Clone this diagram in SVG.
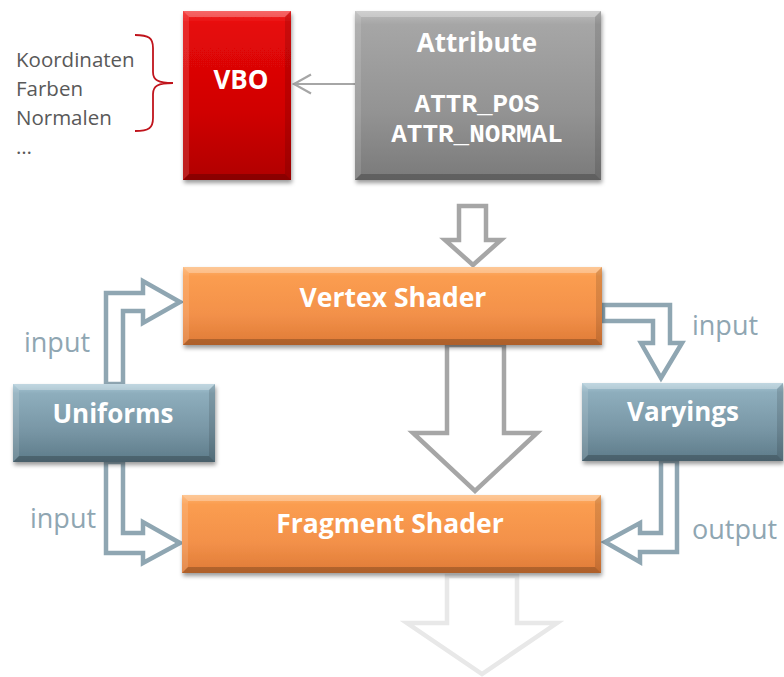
<svg xmlns="http://www.w3.org/2000/svg" width="784" height="677" viewBox="0 0 784 677">
<defs>
  <linearGradient id="gOrange" x1="0" y1="0" x2="0" y2="1">
    <stop offset="0" stop-color="#fdb36f"/>
    <stop offset="0.12" stop-color="#fb9d50"/>
    <stop offset="0.6" stop-color="#f3914a"/>
    <stop offset="1" stop-color="#df7b36"/>
  </linearGradient>
  <linearGradient id="gBlue" x1="0" y1="0" x2="0" y2="1">
    <stop offset="0" stop-color="#a9c8d6"/>
    <stop offset="0.12" stop-color="#8eaebd"/>
    <stop offset="0.6" stop-color="#7896a5"/>
    <stop offset="1" stop-color="#5d7b89"/>
  </linearGradient>
  <linearGradient id="gRed" x1="0" y1="0" x2="0" y2="1">
    <stop offset="0" stop-color="#f42a2a"/>
    <stop offset="0.08" stop-color="#e60808"/>
    <stop offset="0.6" stop-color="#d00404"/>
    <stop offset="1" stop-color="#b00000"/>
  </linearGradient>
  <linearGradient id="gGray" x1="0" y1="0" x2="0" y2="1">
    <stop offset="0" stop-color="#bdbdbd"/>
    <stop offset="0.08" stop-color="#a6a6a6"/>
    <stop offset="0.6" stop-color="#939393"/>
    <stop offset="1" stop-color="#7a7a7a"/>
  </linearGradient>
  <filter id="shadow" x="-10%" y="-10%" width="125%" height="135%">
    <feDropShadow dx="1" dy="3" stdDeviation="2.2" flood-color="#000" flood-opacity="0.4"/>
  </filter>
</defs>
<style>
  .box { stroke: none; filter: url(#shadow); }
  .bt { fill: #ffffff; opacity: 0.28; }
  .bl { fill: #ffffff; opacity: 0.12; }
  .br { fill: #000000; opacity: 0.12; }
  .bb { fill: #000000; opacity: 0.22; }
  .title { font-family: "Open Sans", "Liberation Sans", sans-serif; font-weight: bold; fill: #ffffff; text-anchor: middle; }
  .mono { font-family: "Liberation Mono", "DejaVu Sans Mono", monospace; font-weight: bold; fill: #ffffff; text-anchor: middle; font-size: 26px; }
  .side { font-family: "Open Sans", "Liberation Sans", sans-serif; font-size: 20.5px; fill: #595959; }
  .lbl { font-family: "Open Sans", "Liberation Sans", sans-serif; font-size: 27px; fill: #8fa6b2; }
  .ga { fill: #ffffff; stroke: #a6a6a6; stroke-width: 4.5; stroke-linejoin: miter; }
  .ba { fill: #ffffff; stroke: #8fa6b2; stroke-width: 4.5; stroke-linejoin: miter; }
  .fa { fill: #ffffff; stroke: #e8e8e8; stroke-width: 4.5; }
</style>

<g id="connectors">
  <!-- Attribute -> VBO -->
  <line x1="355" y1="84" x2="294" y2="84" stroke="#a6a6a6" stroke-width="2.2"/>
  <polyline points="311,74.5 294,84 311,93.5" fill="none" stroke="#a6a6a6" stroke-width="2.2"/>
  <!-- Attribute -> Vertex Shader -->
  <polygon class="ga" points="459,206 486,206 486,240 501,240 473,265 445,240 459,240"/>
  <!-- Vertex -> Fragment big arrow -->
  <polygon class="ga" points="447,345 504,345 504,433 537,433 475,491 413,433 447,433"/>
  <!-- Fragment -> out (faded) -->
  <polygon class="fa" points="447,576 517,576 517,623 557,623 482,674 407,623 447,623"/>
  <!-- Uniforms -> Vertex -->
  <polygon class="ba" points="106,384 106,293 143,293 143,281 180,302 143,323 143,311 123,311 123,384"/>
  <!-- Uniforms -> Fragment -->
  <polygon class="ba" points="106,462 106,553 143,553 143,563 180,543 143,522 143,533 123,533 123,462"/>
  <!-- Vertex -> Varyings -->
  <polygon class="ba" points="603,305 670,305 670,343 682,343 661,378 641,343 653,343 653,321 603,321"/>
  <!-- Varyings -> Fragment -->
  <polygon class="ba" points="677,461 677,552 640,552 640,562 605,542 640,523 640,533 661,533 661,461"/>
</g>

<g id="labels">
  <text class="lbl" x="24" y="352">input</text>
  <text class="lbl" x="30" y="528">input</text>
  <text class="lbl" x="692" y="335">input</text>
  <text class="lbl" x="692" y="539">output</text>
</g>

<g id="vbo-data">
  <text class="side" x="16" y="67">Koordinaten</text>
  <text class="side" x="16" y="96">Farben</text>
  <text class="side" x="16" y="125">Normalen</text>
  <text class="side" x="16" y="154">…</text>
  <path d="M135,35 C149,35 153,38 153,48 L153,72 C153,80 158,83 173,83 C158,83 153,86 153,94 L153,118 C153,128 149,131 135,131" fill="none" stroke="#c0141c" stroke-width="1.8"/>
</g>

<g id="node-vbo">
  <rect class="box" x="183" y="11" width="108" height="169" fill="url(#gRed)"/>
  <polygon class="bt" points="183,11 291,11 285,17 189,17"/>
  <polygon class="bl" points="183,11 189,17 189,174 183,180"/>
  <polygon class="br" points="291,11 285,17 285,174 291,180"/>
  <polygon class="bb" points="183,180 291,180 285,174 189,174"/>
  <text class="title" x="241" y="89" font-size="26">VBO</text>
</g>

<g id="node-attribute">
  <rect class="box" x="355" y="11" width="246" height="169" fill="url(#gGray)"/>
  <polygon class="bt" points="355,11 601,11 595,17 361,17"/>
  <polygon class="bl" points="355,11 361,17 361,174 355,180"/>
  <polygon class="br" points="601,11 595,17 595,174 601,180"/>
  <polygon class="bb" points="355,180 601,180 595,174 361,174"/>
  <text class="title" x="477" y="52" font-size="26">Attribute</text>
  <text class="mono" x="477" y="112">ATTR_POS</text>
  <text class="mono" x="477" y="142">ATTR_NORMAL</text>
</g>

<g id="node-vertex">
  <rect class="box" x="183" y="267" width="419" height="78" fill="url(#gOrange)"/>
  <polygon class="bt" points="183,267 602,267 596,273 189,273"/>
  <polygon class="bl" points="183,267 189,273 189,339 183,345"/>
  <polygon class="br" points="602,267 596,273 596,339 602,345"/>
  <polygon class="bb" points="183,345 602,345 596,339 189,339"/>
  <text class="title" x="393" y="307" font-size="26.5">Vertex Shader</text>
</g>

<g id="node-fragment">
  <rect class="box" x="182" y="495" width="419" height="78" fill="url(#gOrange)"/>
  <polygon class="bt" points="182,495 601,495 595,501 188,501"/>
  <polygon class="bl" points="182,495 188,501 188,567 182,573"/>
  <polygon class="br" points="601,495 595,501 595,567 601,573"/>
  <polygon class="bb" points="182,573 601,573 595,567 188,567"/>
  <text class="title" x="390" y="533" font-size="26.5">Fragment Shader</text>
</g>

<g id="node-uniforms">
  <rect class="box" x="13" y="384" width="202" height="78" fill="url(#gBlue)"/>
  <polygon class="bt" points="13,384 215,384 209,390 19,390"/>
  <polygon class="bl" points="13,384 19,390 19,456 13,462"/>
  <polygon class="br" points="215,384 209,390 209,456 215,462"/>
  <polygon class="bb" points="13,462 215,462 209,456 19,456"/>
  <text class="title" x="113" y="423" font-size="26">Uniforms</text>
</g>

<g id="node-varyings">
  <rect class="box" x="582" y="383" width="201" height="78" fill="url(#gBlue)"/>
  <polygon class="bt" points="582,383 783,383 777,389 588,389"/>
  <polygon class="bl" points="582,383 588,389 588,455 582,461"/>
  <polygon class="br" points="783,383 777,389 777,455 783,461"/>
  <polygon class="bb" points="582,461 783,461 777,455 588,455"/>
  <text class="title" x="683" y="421" font-size="26">Varyings</text>
</g>
</svg>
